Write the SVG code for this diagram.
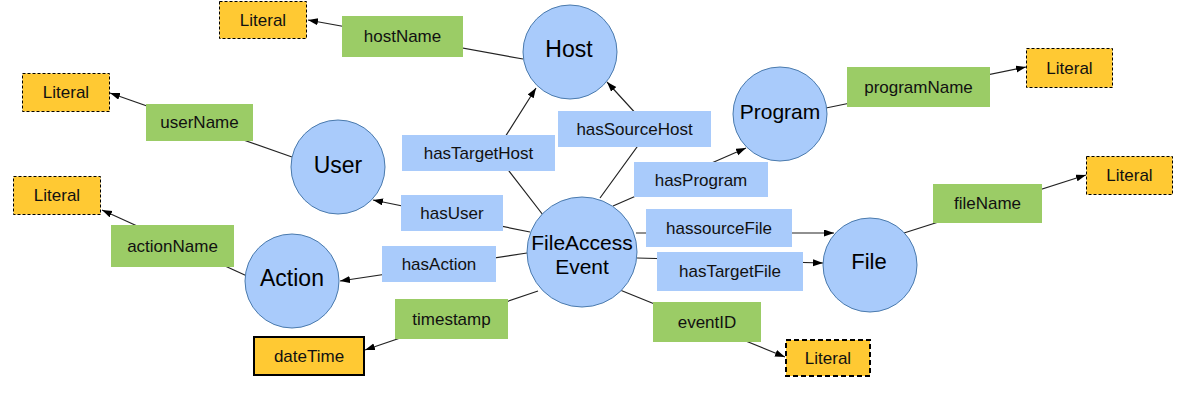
<svg xmlns="http://www.w3.org/2000/svg" width="1183" height="403" viewBox="0 0 1183 403">
<style>
.cls{fill:#a9cbfb;stroke:#4a7aad;stroke-width:1}
.ct{font-family:"Liberation Sans",Arial,sans-serif;fill:#000;text-anchor:middle}
.prop{fill:#9bcc66}
.rel{fill:#a9cbfb}
.lit{fill:#ffc933;stroke:#000;stroke-width:1;stroke-dasharray:3,2}
.lt{font-family:"Liberation Sans",Arial,sans-serif;font-size:17px;fill:#111;text-anchor:middle}
.ln{fill:none;stroke:#222;stroke-width:1.2}
.arr{marker-end:url(#ah)}
</style>
<defs>
<marker id="ah" markerUnits="userSpaceOnUse" markerWidth="11" markerHeight="8" refX="10" refY="3.5" orient="auto">
<path d="M0,0 L10,3.5 L0,7 z" fill="#000"/>
</marker>
</defs>
<rect width="1183" height="403" fill="#fff"/>
<g id="connectors">
<path class="ln arr" d="M523,59 L308,20"/>
<path class="ln arr" d="M292,157 L110,93"/>
<path class="ln arr" d="M247,276 L102,210"/>
<path class="ln arr" d="M538,291 L365,350"/>
<path class="ln arr" d="M620,290 L785,357"/>
<path class="ln arr" d="M543,215 L495,153 L536,88"/>
<path class="ln arr" d="M600,198 L650,129 L607,82"/>
<path class="ln arr" d="M613,206 L746,148"/>
<path class="ln arr" d="M636,233 L834,233"/>
<path class="ln arr" d="M637,258 L823,263"/>
<path class="ln arr" d="M530,232 L373,200"/>
<path class="ln arr" d="M527,253 L340,281"/>
<path class="ln arr" d="M826,108 L1026,67"/>
<path class="ln arr" d="M904,233 L1086,175"/>
</g>
<g id="host"><circle class="cls" cx="570" cy="52" r="47"/><text class="ct" x="569" y="57" font-size="23">Host</text></g>
<g id="program"><circle class="cls" cx="780" cy="114" r="47"/><text class="ct" x="780" y="119" font-size="21">Program</text></g>
<g id="user"><circle class="cls" cx="338" cy="167" r="47"/><text class="ct" x="338" y="173" font-size="23">User</text></g>
<g id="action"><circle class="cls" cx="292" cy="281" r="47"/><text class="ct" x="292" y="286" font-size="23">Action</text></g>
<g id="fileaccessevent"><circle class="cls" cx="582" cy="252" r="55"/><text class="ct" x="582" y="250" font-size="21">FileAccess</text><text class="ct" x="582" y="274" font-size="21">Event</text></g>
<g id="file"><circle class="cls" cx="870" cy="265" r="47"/><text class="ct" x="869" y="269" font-size="22">File</text></g>
<g id="lbl-hostName"><rect class="prop" x="342" y="16" width="121" height="41"/><text class="lt" x="402.5" y="42">hostName</text></g>
<g id="lbl-userName"><rect class="prop" x="146" y="104" width="107" height="37"/><text class="lt" x="199.5" y="128">userName</text></g>
<g id="lbl-actionName"><rect class="prop" x="111" y="225" width="123" height="42"/><text class="lt" x="172.5" y="252">actionName</text></g>
<g id="lbl-timestamp"><rect class="prop" x="395" y="299" width="113" height="40"/><text class="lt" x="451.5" y="325">timestamp</text></g>
<g id="lbl-eventID"><rect class="prop" x="653" y="302" width="108" height="40"/><text class="lt" x="707" y="328">eventID</text></g>
<g id="lbl-programName"><rect class="prop" x="847" y="67" width="143" height="40"/><text class="lt" x="918.5" y="93">programName</text></g>
<g id="lbl-fileName"><rect class="prop" x="933" y="184" width="109" height="39"/><text class="lt" x="987.5" y="209">fileName</text></g>
<g id="lbl-hasTargetHost"><rect class="rel" x="402" y="135" width="153" height="36"/><text class="lt" x="478.5" y="159">hasTargetHost</text></g>
<g id="lbl-hasSourceHost"><rect class="rel" x="558" y="111" width="153" height="36"/><text class="lt" x="634.5" y="135">hasSourceHost</text></g>
<g id="lbl-hasProgram"><rect class="rel" x="634" y="162" width="134" height="35"/><text class="lt" x="701" y="186">hasProgram</text></g>
<g id="lbl-hassourceFile"><rect class="rel" x="646" y="209" width="146" height="38"/><text class="lt" x="719" y="234">hassourceFile</text></g>
<g id="lbl-hasTargetFile"><rect class="rel" x="657" y="252" width="146" height="39"/><text class="lt" x="730" y="277">hasTargetFile</text></g>
<g id="lbl-hasUser"><rect class="rel" x="401" y="195" width="102" height="36"/><text class="lt" x="452" y="219">hasUser</text></g>
<g id="lbl-hasAction"><rect class="rel" x="382" y="246" width="114" height="36"/><text class="lt" x="439" y="270">hasAction</text></g>
<g id="lit-host"><rect class="lit" x="219.5" y="1.5" width="87" height="37"/><text class="lt" x="263" y="26">Literal</text></g>
<g id="lit-user"><rect class="lit" x="22.5" y="73.5" width="87" height="38"/><text class="lt" x="66" y="98">Literal</text></g>
<g id="lit-action"><rect class="lit" x="13.5" y="176.5" width="87" height="38"/><text class="lt" x="57" y="201">Literal</text></g>
<g id="lit-program"><rect class="lit" x="1026.5" y="48.5" width="86" height="39"/><text class="lt" x="1069.5" y="74">Literal</text></g>
<g id="lit-file"><rect class="lit" x="1086.5" y="156.5" width="86" height="38"/><text class="lt" x="1129.5" y="181">Literal</text></g>
<g id="lit-event"><rect class="lit" x="786" y="340" width="84" height="36" style="stroke-width:2;stroke-dasharray:5,3"/><text class="lt" x="828" y="364">Literal</text></g>
<g id="lit-datetime"><rect x="254" y="337" width="110" height="38" fill="#ffc933" stroke="#000" stroke-width="2"/><text class="lt" x="309" y="362">dateTime</text></g>
</svg>
